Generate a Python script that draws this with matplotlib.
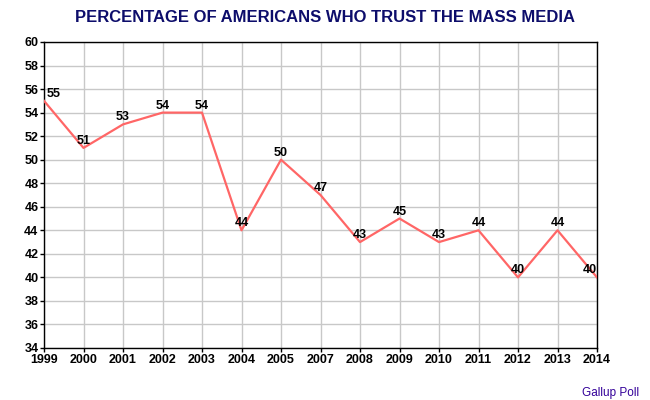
import matplotlib
matplotlib.use("Agg")
import matplotlib.pyplot as plt

years = ["1999", "2000", "2001", "2002", "2003", "2004", "2005", "2007",
         "2008", "2009", "2010", "2011", "2012", "2013", "2014"]
trust = [55, 51, 53, 54, 54, 44, 50, 47, 43, 45, 43, 44, 40, 44, 40]

plt.rcParams['font.family'] = ['Liberation Sans', 'DejaVu Sans']

fig = plt.figure(figsize=(6.5, 4), dpi=100)
ax = fig.add_axes([44/650, 52/400, 553/650, 306/400])

x = list(range(len(years)))
ax.plot(x, trust, color="#ff6666", linewidth=1.6, zorder=3)

for i, v in enumerate(trust):
    ha = "center"
    dx = 0
    if i == 0:
        ha, dx = "left", 2
    elif i == len(trust) - 1:
        ha, dx = "right", 0
    ax.annotate(str(v), (i, v), xytext=(dx, 5), textcoords="offset points",
                ha=ha, va="center", fontsize=9, fontweight="bold",
                color="black", zorder=4)

ax.set_xlim(0, len(years) - 1)
ax.set_ylim(34, 60)
ax.set_xticks(x)
ax.set_xticklabels(years)
ax.set_yticks(range(34, 61, 2))
ax.tick_params(labelsize=9, length=3, width=1, pad=1)
for lbl in ax.get_xticklabels() + ax.get_yticklabels():
    lbl.set_fontweight("bold")
ax.grid(True, color="#c8c8c8", linewidth=1)
ax.set_axisbelow(True)
for s in ax.spines.values():
    s.set_linewidth(1)
    s.set_color("black")

fig.text(0.5, 1 - 17/400, "PERCENTAGE OF AMERICANS WHO TRUST THE MASS MEDIA",
         ha="center", va="center", fontsize=12, fontweight="bold", color="#0d0d6b")
fig.text(639/650, 1 - 393/400, "Gallup Poll", ha="right", va="center",
         fontsize=8.5, color="#330099")

fig.savefig("out.png", dpi=100)
